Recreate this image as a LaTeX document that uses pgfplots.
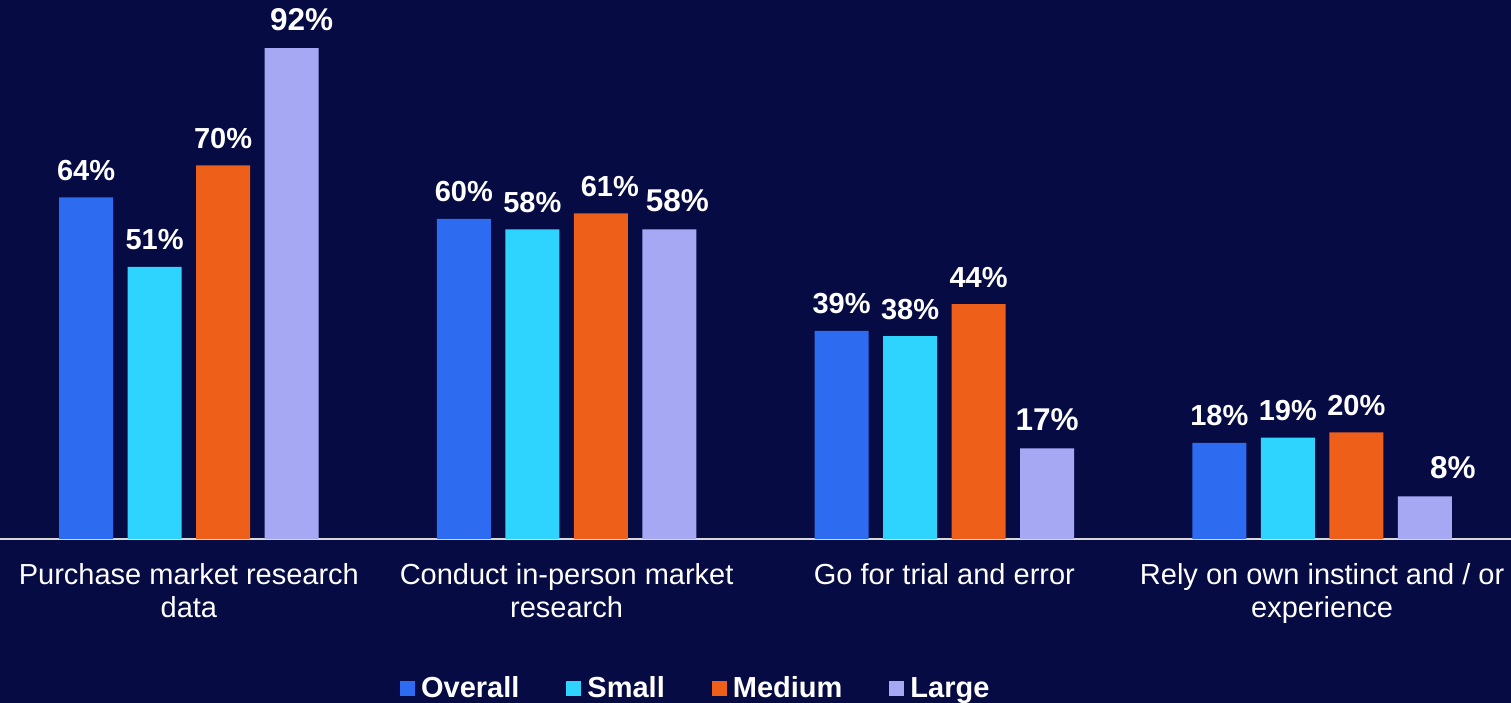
\documentclass[border=0pt]{standalone}
\usepackage{fontspec}
\setmainfont{Liberation Sans}
\usepackage{pgfplots}
\usepackage{pgfplotstable}
\pgfplotsset{compat=1.18}
\definecolor{bgc}{HTML}{060B44}
\definecolor{cOverall}{HTML}{2D6BF0}
\definecolor{cSmall}{HTML}{2ED3FE}
\definecolor{cMedium}{HTML}{EE5F1A}
\definecolor{cLarge}{HTML}{A6A8F3}
\definecolor{axc}{HTML}{D9D9D9}
\pgfplotstableread{
x y dx
0 70 0
1 61 9
2 44 0
3 20 0
}\mediumtable
\pgfplotstableread{
x y dx
0 92 10
1 58 8
2 17 0
3 8 28
}\largetable
\begin{document}
\begin{tikzpicture}
\fill[bgc] (0pt,-164pt) rectangle (1511pt,539pt);
\begin{axis}[
  at={(0pt,0pt)}, anchor=south west,
  scale only axis,
  width=1511pt, height=539pt,
  xmin=-0.5, xmax=3.5, ymin=0, ymax=101,
  ybar=14.5pt, bar width=54pt,
  hide y axis,
  axis x line*=bottom,
  x axis line style={color=axc, line width=1.5pt},
  xtick={0,1,2,3},
  xtick style={draw=none},
  xticklabels={Purchase market research\\data, Conduct in-person market\\research, Go for trial and error, Rely on own instinct and / or\\experience},
  xticklabel style={align=center, text=white, font=\fontsize{29}{33}\selectfont, yshift=-17pt},
  nodes near coords={\pgfmathprintnumber[assume math mode=true]{\pgfplotspointmeta}\%},
  nodes near coords style={anchor=base, yshift=17pt, text=white, font=\bfseries\fontsize{29}{29}\selectfont},
  legend columns=4,
  legend style={at={(rel axis cs:0.2647,-0.2764)}, anchor=west, draw=none, fill=none, text=white,
    font=\bfseries\fontsize{29}{29}\selectfont, inner sep=0pt,
    nodes={inner xsep=6pt, inner ysep=0pt},
    /tikz/every even column/.append style={column sep=41pt}},
  legend image code/.code={\fill[#1] (0pt,-8pt) rectangle (15pt,7pt);},
]
\addplot[fill=cOverall, draw=none] coordinates {(0,64) (1,60) (2,39) (3,18)};
\addplot[fill=cSmall, draw=none] coordinates {(0,51) (1,58) (2,38) (3,19)};
\addplot[fill=cMedium, draw=none,
  visualization depends on={\thisrow{dx} \as \dx},
  every node near coord/.append style={xshift=\dx pt}]
  table[x=x, y=y] {\mediumtable};
\addplot[fill=cLarge, draw=none,
  visualization depends on={\thisrow{dx} \as \dx},
  every node near coord/.append style={xshift=\dx pt, yshift=1pt, font=\bfseries\fontsize{31.5}{31.5}\selectfont}]
  table[x=x, y=y] {\largetable};
\legend{Overall, Small, Medium, Large}
\end{axis}
\pgfresetboundingbox
\path (0pt,-164pt) rectangle (1511pt,539pt);
\end{tikzpicture}
\end{document}
